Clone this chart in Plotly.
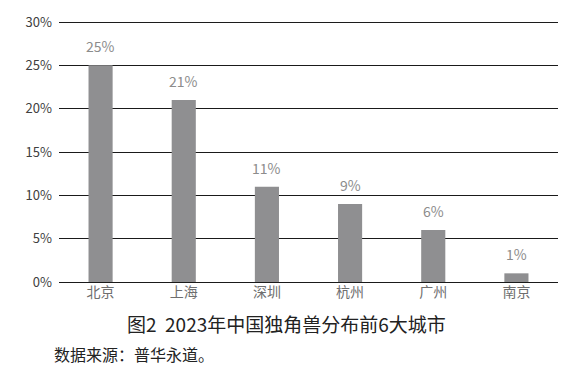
import plotly.graph_objects as go

cities = ["北京", "上海", "深圳", "杭州", "广州", "南京"]
shares = [25, 21, 11, 9, 6, 1]
y_ticks = [0, 5, 10, 15, 20, 25, 30]
y_tick_labels = ["0%", "5%", "10%", "15%", "20%", "25%", "30%"]
title_text = "图2  2023年中国独角兽分布前6大城市"
source_text = "数据来源：普华永道。"

font_family = "Noto Sans CJK SC, Noto Sans, sans-serif"

fig = go.Figure(
    go.Bar(
        x=cities,
        y=shares,
        marker=dict(color="#8f8f91", line=dict(width=0)),
        hoverinfo="skip",
    )
)

label_annotations = [
    dict(
        x=c, y=v, xref="x", yref="y",
        text=f"{v}%",
        showarrow=False,
        yanchor="bottom", yshift=7,
        font=dict(color="#8c8c8c", size=14, family=font_family),
    )
    for c, v in zip(cities, shares)
]

# top (30%) gridline, which plotly omits at the axis edge
fig.add_shape(
    type="line", xref="paper", yref="y",
    x0=0, x1=1, y0=29.944, y1=29.944,
    line=dict(color="#1a1a1a", width=1),
)

fig.update_layout(
    width=578,
    height=368,
    margin=dict(l=59, r=20, t=16, b=86),
    paper_bgcolor="white",
    plot_bgcolor="white",
    bargap=0.71,
    showlegend=False,
    font=dict(family=font_family),
    xaxis=dict(
        showgrid=False,
        showline=False,
        ticks="",
        tickfont=dict(color="#6e6e6e", size=14),
    ),
    yaxis=dict(
        range=[0, 30],
        tickvals=y_ticks,
        ticktext=y_tick_labels,
        showgrid=True,
        gridcolor="#1a1a1a",
        gridwidth=1,
        zeroline=True,
        zerolinecolor="#1a1a1a",
        zerolinewidth=1,
        showline=False,
        ticks="",
        ticklabelstandoff=6,
        tickfont=dict(color="#404040", size=13),
    ),
    annotations=label_annotations + [
        dict(
            text=title_text,
            xref="paper", yref="paper",
            x=0.455, y=-0.16,
            xanchor="center", yanchor="middle",
            showarrow=False,
            font=dict(size=19, color="#222222", family=font_family),
        ),
        dict(
            text=source_text,
            xref="paper", yref="paper",
            x=-0.014, y=-0.278,
            xanchor="left", yanchor="middle",
            showarrow=False,
            font=dict(size=16, color="#222222", family=font_family),
        ),
    ],
)

fig.write_html(
    "out.html",
    config={"displayModeBar": False},
    post_script="document.body.style.margin='0';document.body.style.overflow='hidden';",
)
